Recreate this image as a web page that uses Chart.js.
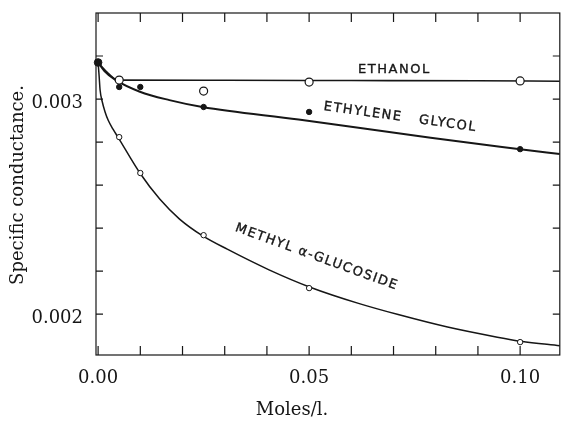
<!DOCTYPE html>
<html>
<head>
<meta charset="utf-8">
<script src="https://cdn.jsdelivr.net/npm/chart.js@4.4.1/dist/chart.umd.min.js"></script>
<style>
  body { margin: 0; background: #fff; }
  canvas { display: block; }
</style>
</head>
<body>
<canvas id="conductance_chart" width="565" height="421"></canvas>
<script>
// measured points (moles/l., specific conductance)
const startX = [0];
const startY = [0.00317];

const ethanolX = [0.005, 0.025, 0.05, 0.1];
const ethanolY = [0.003088, 0.003037, 0.003079, 0.003084];

const glycolX = [0.005, 0.01, 0.025, 0.05, 0.1];
const glycolY = [0.003056, 0.003056, 0.002963, 0.00294, 0.002767];

const glucosideX = [0.005, 0.01, 0.025, 0.05, 0.1];
const glucosideY = [0.002823, 0.002656, 0.002367, 0.002121, 0.00187];

// drawn curves
const ethanolCurveX = [0, 0.0024, 0.0047, 0.03, 0.06, 0.09, 0.1094];
const ethanolCurveY = [0.00317, 0.00312, 0.003088, 0.003087, 0.003086, 0.003085, 0.003083];

const glycolCurveX = [0, 0.0015, 0.004, 0.0099, 0.0169, 0.0247, 0.0475, 0.0788, 0.1, 0.1094];
const glycolCurveY = [0.00317, 0.00313, 0.00309, 0.003034, 0.002995, 0.002963, 0.002905, 0.00282, 0.002767, 0.002744];

const glucosideCurveX = [0, 0.00024, 0.00047, 0.00094, 0.00165, 0.00242, 0.00353, 0.0047, 0.0099, 0.0146,
  0.0193, 0.0247, 0.0306, 0.0405, 0.0504, 0.0617, 0.0711, 0.0828, 0.0946, 0.1002, 0.1094];
const glucosideCurveY = [0.00317, 0.003107, 0.003042, 0.002991, 0.00294, 0.0029, 0.00286, 0.002823, 0.002656, 0.002535,
  0.002442, 0.002365, 0.002302, 0.002206, 0.002124, 0.00205, 0.001998, 0.00194, 0.001893, 0.001874, 0.001853];

// axis ticks
const xTicks = [0, 0.01, 0.02, 0.03, 0.04, 0.05, 0.06, 0.07, 0.08, 0.09, 0.1];
const xTickLabels = { 0: "0.00", 0.05: "0.05", 0.1: "0.10" };
const yTicks = [0.002, 0.0022, 0.0024, 0.0026, 0.0028, 0.003, 0.0032];
const yTickLabels = { 0.002: "0.002", 0.003: "0.003" };

function pts(xs, ys) {
  return xs.map((x, i) => ({ x: x, y: ys[i] }));
}

const INK = "#161616";

function curve(xs, ys, width) {
  return {
    data: pts(xs, ys),
    showLine: true,
    pointRadius: 0,
    borderColor: INK,
    borderWidth: width,
    cubicInterpolationMode: "monotone",
    order: 2,
  };
}

function markers(xs, ys, radius, filled, width) {
  return {
    data: pts(xs, ys),
    showLine: false,
    pointRadius: radius,
    pointBackgroundColor: filled ? INK : "#fff",
    pointBorderColor: INK,
    pointBorderWidth: width,
    clip: false,
    order: 1,
  };
}

function noPadding(scale) {
  scale.paddingTop = 0;
  scale.paddingBottom = 0;
  scale.paddingLeft = 0;
  scale.paddingRight = 0;
}

// frame, inward ticks, titles and curve labels
const decorations = {
  id: "decorations",
  afterDatasetsDraw(chart) {
    const ctx = chart.ctx;
    const a = chart.chartArea;
    const xs = chart.scales.x;
    const ys = chart.scales.y;
    ctx.save();
    ctx.strokeStyle = INK;
    ctx.lineWidth = 1.2;
    ctx.strokeRect(a.left, a.top, a.right - a.left, a.bottom - a.top);
    ctx.beginPath();
    xTicks.forEach((v) => {
      const px = xs.getPixelForValue(v);
      ctx.moveTo(px, a.bottom);
      ctx.lineTo(px, a.bottom - 9);
      ctx.moveTo(px, a.top);
      ctx.lineTo(px, a.top + 9);
    });
    yTicks.forEach((v) => {
      const py = ys.getPixelForValue(v);
      ctx.moveTo(a.left, py);
      ctx.lineTo(a.left + 7, py);
      ctx.moveTo(a.right, py);
      ctx.lineTo(a.right - 7, py);
    });
    ctx.stroke();

    ctx.fillStyle = INK;
    ctx.font = "18px 'DejaVu Serif'";
    ctx.textAlign = "center";
    ctx.textBaseline = "middle";
    ctx.fillText("Moles/l.", 292, 410);
    ctx.save();
    ctx.translate(18, 185);
    ctx.rotate(-Math.PI / 2);
    ctx.fillText("Specific conductance.", 0, 0);
    ctx.restore();

    ctx.font = "13px 'DejaVu Sans'";
    ctx.letterSpacing = "1.5px";
    ctx.lineWidth = 0.35;
    const labels = [
      { text: "ETHANOL", x: 0.0702, y: 0.0031375, angle: 0 },
      { text: "ETHYLENE   GLYCOL", x: 0.0716, y: 0.002915, angle: 7.9 },
      { text: "METHYL α-GLUCOSIDE", x: 0.0518, y: 0.002265, angle: 20 },
    ];
    labels.forEach((l) => {
      ctx.save();
      ctx.translate(xs.getPixelForValue(l.x), ys.getPixelForValue(l.y));
      ctx.rotate((l.angle * Math.PI) / 180);
      ctx.fillText(l.text, 0, 0);
      ctx.strokeText(l.text, 0, 0);
      ctx.restore();
    });
    ctx.restore();
  },
};

const ctx = document.getElementById("conductance_chart");
new Chart(ctx, {
  type: "scatter",
  data: {
    datasets: [
      markers(startX, startY, 3.8, true, 1),
      markers(ethanolX, ethanolY, 4, false, 1.2),
      markers(glycolX, glycolY, 2.7, true, 1),
      markers(glucosideX, glucosideY, 2.7, false, 1),
      curve(ethanolCurveX, ethanolCurveY, 1.6),
      curve(glycolCurveX, glycolCurveY, 2),
      curve(glucosideCurveX, glucosideCurveY, 1.5),
    ],
  },
  options: {
    responsive: false,
    animation: false,
    layout: {
      padding: { left: 0, top: 13, right: 2, bottom: 0 },
    },
    plugins: {
      legend: { display: false },
      tooltip: { enabled: false },
    },
    scales: {
      x: {
        type: "linear",
        min: -0.0005,
        max: 0.1094,
        grid: { display: false, drawTicks: false },
        border: { display: false },
        afterBuildTicks: (scale) => {
          scale.ticks = xTicks.map((v) => ({ value: v }));
        },
        afterFit: (scale) => {
          scale.height = 66;
          noPadding(scale);
        },
        ticks: {
          autoSkip: false,
          maxRotation: 0,
          padding: 13,
          color: INK,
          font: { family: "DejaVu Serif", size: 18 },
          callback: function (value) {
            const key = Math.round(value * 100) / 100;
            return Math.abs(value - key) < 1e-9 && xTickLabels[key] ? xTickLabels[key] : "";
          },
        },
      },
      y: {
        type: "linear",
        min: 0.00181,
        max: 0.0034,
        grid: { display: false, drawTicks: false },
        border: { display: false },
        afterBuildTicks: (scale) => {
          scale.ticks = yTicks.map((v) => ({ value: v }));
        },
        afterFit: (scale) => {
          scale.width = 96;
          noPadding(scale);
        },
        ticks: {
          autoSkip: false,
          padding: 13,
          labelOffset: 4,
          color: INK,
          font: { family: "DejaVu Serif", size: 18 },
          callback: function (value) {
            const key = Math.round(value * 1000) / 1000;
            return Math.abs(value - key) < 1e-9 && yTickLabels[key] ? yTickLabels[key] : "";
          },
        },
      },
    },
  },
  plugins: [decorations],
});
</script>
</body>
</html>
